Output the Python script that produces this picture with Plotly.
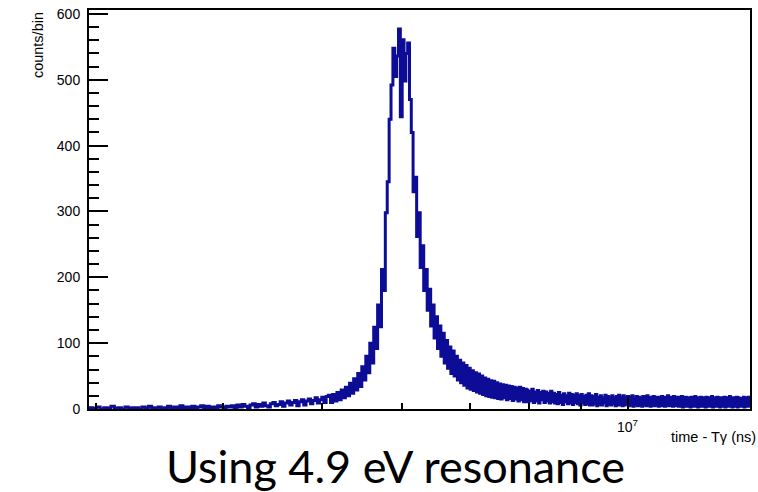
import math
import plotly.graph_objects as go

# Histogram: counts per bin of (time - T_gamma), fixed-width bins in ns
bin_start_ns = 2.95e6
bin_width_ns = 25000.0

counts_per_bin = [
    # 2.95e6 .. 4.07e6 ns : flat, near-empty region
    2, 1, 3, 0, 2, 1, 4, 1, 2, 0, 3, 1, 2, 2, 0, 3, 1, 4, 2, 1,
    3, 0, 2, 4, 1, 3, 2, 5, 1, 3, 2, 4, 1, 3, 5, 2, 4, 1, 3, 2,
    5, 3, 1, 4, 3,
    # slow rise
    5, 2, 6, 3, 7, 4, 2, 6, 8, 3, 7, 4, 9, 5, 3, 8, 10, 5, 7, 11,
    4, 9, 12, 6, 10,
    13, 5, 11, 14, 6, 12, 15, 8, 13, 17, 9, 14, 18, 10, 19,
    21, 10, 22, 12, 25, 14, 29, 17, 33, 20, 39, 24, 46, 29, 54,
    # leading edge of the resonance
    34, 64, 44, 80, 55, 100, 70, 124, 92, 158, 125, 212, 180, 298, 345, 440, 492,
    # top of the resonance
    548, 505, 536, 577, 444, 561, 498, 540, 556,
    # trailing edge
    470, 420, 330, 352, 262, 298, 215, 248, 180, 212,
    150, 182, 126, 158, 108, 140, 92, 126, 80, 115,
    70, 104, 62, 94, 54, 88, 50, 80, 44, 74,
    40, 70, 36, 66, 32, 62, 30, 58, 28, 55,
    26, 53, 24, 50, 22, 47, 20, 45, 19, 43,
    18, 42, 17, 40, 16,
    # long tail
    38, 15, 37, 17, 36, 14, 35, 16, 34, 13, 33, 15, 32, 12, 33, 14, 31, 11, 30,
    29, 11, 27, 13, 30, 10, 26, 12, 28, 9, 25, 14, 27, 10, 26, 12, 24, 9, 27, 11,
    24, 9, 22, 8, 25, 10, 21, 7, 23, 11, 20, 8, 24, 9, 22, 7, 21, 10, 23, 8,
    20, 6, 22, 9, 19, 7, 21, 8, 23, 6,
    20, 6, 19, 8, 22, 5, 18, 7, 20, 6, 17, 9, 21, 5, 19, 7, 18, 6, 20, 8,
    17, 5, 19, 6, 21, 7, 18, 5, 20, 6, 17, 8,
    19, 5, 18, 6, 20, 4, 17, 7, 19, 5, 18, 6, 16, 4, 19, 7, 18, 5, 20, 6,
    17, 4, 18, 6, 19, 5, 17, 7, 18, 4, 16, 6, 19, 5, 18, 4, 17, 6, 20, 5,
    18, 7, 16, 4, 19, 5, 17, 6,
    18, 4, 17, 6, 19, 3, 16, 5, 18, 4, 17, 6, 15, 3, 18, 5, 16, 4, 19, 6,
    17, 3, 16, 5, 18, 4, 15, 6, 17, 3, 18, 5, 16, 4, 17, 6, 19, 3, 16, 5,
    17, 4, 18, 5, 15, 3, 17, 6, 16, 4, 18, 3, 17, 5, 16, 4, 19, 5, 15, 3,
    17, 4, 16, 6, 18, 3, 17, 5, 16, 4, 15, 6, 18, 3, 17, 5, 16, 4, 18, 5,
]

x_range_ns = [2.95e6, 1.32e7]
y_range = [0, 606]
x_major_ticks = [1e7]
x_major_text = ["10<sup>7</sup>"]
x_minor_ticks = [3e6, 4e6, 5e6, 6e6, 7e6, 8e6, 9e6]

x_title = "time - T\u03b3 (ns)"
y_title = "counts/bin"
caption = "Using 4.9 eV resonance"

line_color = "#0c0c96"
sans = "Liberation Sans, Arial, sans-serif"

# step outline: bin edges on x, each count held across its bin
edges = [bin_start_ns + i * bin_width_ns for i in range(len(counts_per_bin) + 1)]
step_y = counts_per_bin + [counts_per_bin[-1]]

fig = go.Figure()
fig.add_trace(go.Scatter(
    x=edges, y=step_y, mode="lines",
    line=dict(color=line_color, width=3, shape="hv"),
    hoverinfo="skip", showlegend=False,
))

axis_font = dict(family=sans, size=14, color="black")

fig.update_xaxes(
    type="log",
    range=[math.log10(v) for v in x_range_ns],
    showline=True, linecolor="black", linewidth=2, mirror=True,
    showgrid=False, zeroline=False,
    ticks="inside", ticklen=12, tickwidth=1.5, tickcolor="black",
    tickmode="array", tickvals=x_major_ticks, ticktext=x_major_text,
    tickfont=axis_font, ticklabelstandoff=4,
    minor=dict(ticks="inside", ticklen=6, tickwidth=1.5, tickcolor="black",
               tickmode="array", tickvals=x_minor_ticks, showgrid=False),
)
fig.update_yaxes(
    range=y_range,
    showline=True, linecolor="black", linewidth=2, mirror=True,
    showgrid=False, zeroline=False,
    ticks="inside", ticklen=19, tickwidth=1.5, tickcolor="black",
    tickmode="linear", tick0=0, dtick=100,
    tickfont=axis_font, ticklabelstandoff=4,
    minor=dict(ticks="inside", ticklen=10, tickwidth=1.5, tickcolor="black",
               dtick=20, showgrid=False),
)

fig.add_annotation(
    text=y_title, xref="paper", yref="paper", x=-0.077, y=1.0,
    xanchor="center", yanchor="top", textangle=-90, showarrow=False,
    font=dict(family=sans, size=14.5, color="black"),
)
fig.add_annotation(
    text=x_title, xref="paper", yref="paper", x=1.012, y=-0.07,
    xanchor="right", yanchor="middle", showarrow=False,
    font=dict(family=sans, size=14.5, color="black"),
)
fig.add_annotation(
    text=caption, xref="paper", yref="paper", x=0.464, y=-0.143,
    xanchor="center", yanchor="middle", showarrow=False,
    font=dict(family="Lato, Open Sans, sans-serif", size=45, color="black"),
)

fig.update_layout(
    width=758, height=492,
    margin=dict(l=89, r=6, t=9, b=83),
    paper_bgcolor="white", plot_bgcolor="white",
)

fig.write_html("out.html")
